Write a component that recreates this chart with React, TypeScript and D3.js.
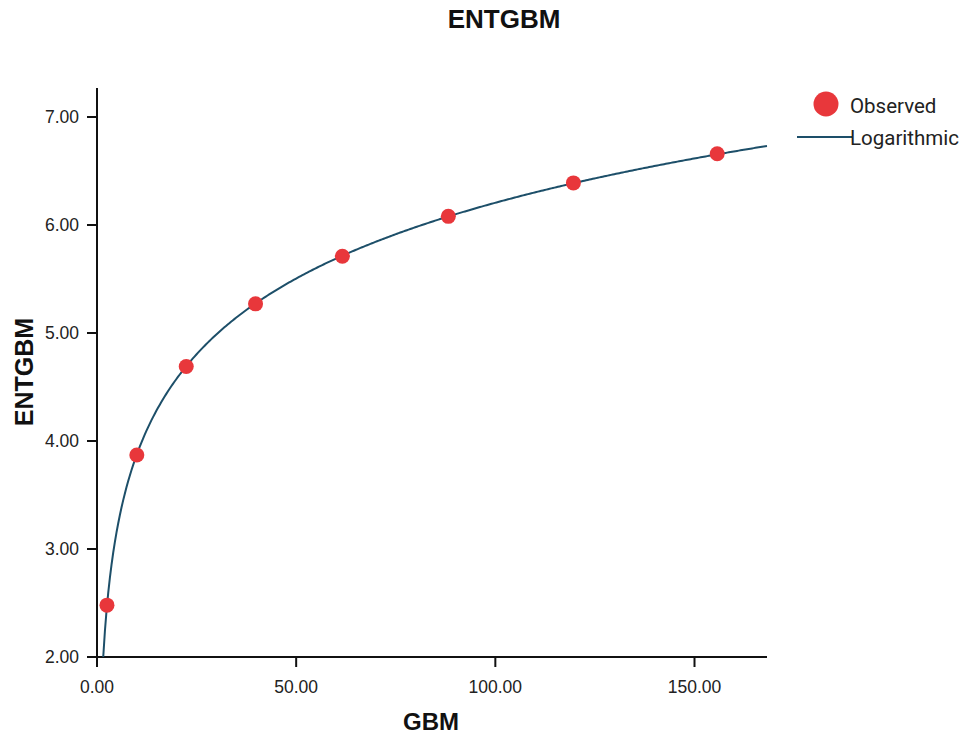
import React from "react";
import * as d3 from "d3";

const gbm = [2.5, 10.0, 22.4, 39.8, 61.6, 88.2, 119.6, 155.7];
const entgbm = [2.48, 3.87, 4.69, 5.27, 5.71, 6.08, 6.39, 6.66];
const xTicks = [0, 50, 100, 150];
const yTicks = [2, 3, 4, 5, 6, 7];
const legendLabels = ["Observed", "Logarithmic"];

const W = 979;
const H = 738;
const X0 = 97, X1 = 767;
const Y0 = 657, Y1 = 88;

export default function App() {
  const x = d3.scaleLinear().domain([0, 168.2]).range([X0, X1]);
  const y = d3.scaleLinear().domain([2, 7]).range([Y0, 117]);

  // least squares fit y = b0 + b1 ln(x)
  const lx = gbm.map(Math.log);
  const mx = d3.mean(lx)!;
  const my = d3.mean(entgbm)!;
  const b1 = d3.sum(lx.map((v, i) => (v - mx) * (entgbm[i] - my))) / d3.sum(lx.map((v) => (v - mx) ** 2));
  const b0 = my - b1 * mx;
  const xStart = Math.exp((2 - b0) / b1);
  const xs = d3.range(0, 401).map((i) => xStart + ((168.2 - xStart) * i) / 400);
  const line = d3
    .line<number>()
    .x((d) => x(d))
    .y((d) => y(b0 + b1 * Math.log(d)))
    .curve(d3.curveLinear);

  const font = "'Liberation Sans', Arial, sans-serif";
  const red = "#e8373b";
  const teal = "#1d4f69";

  return (
    <svg width={W} height={H} style={{ position: "absolute", left: 0, top: 0 }} fontFamily={font}>
      <rect width={W} height={H} fill="#fff" />
      <text x={504} y={28} textAnchor="middle" fontSize={26} fontWeight="bold" fill="#111">ENTGBM</text>
      {/* axes */}
      <line x1={X0} x2={X0} y1={Y1} y2={Y0 + 10} stroke="#111" strokeWidth={2} />
      <line x1={X0 - 10} x2={X1} y1={Y0} y2={Y0} stroke="#111" strokeWidth={2} />
      {yTicks.map((t) => (
        <g key={"y" + t}>
          <line x1={X0 - 10} x2={X0} y1={y(t)} y2={y(t)} stroke="#111" strokeWidth={2} />
          <text x={X0 - 18} y={y(t) + 6.3} textAnchor="end" fontSize={17.5} fill="#222">{t.toFixed(2)}</text>
        </g>
      ))}
      {xTicks.map((t) => (
        <g key={"x" + t}>
          <line x1={x(t)} x2={x(t)} y1={Y0} y2={Y0 + 10} stroke="#111" strokeWidth={2} />
          <text x={x(t)} y={Y0 + 36} textAnchor="middle" fontSize={17.5} fill="#222">{t.toFixed(2)}</text>
        </g>
      ))}
      <text x={431} y={730} textAnchor="middle" fontSize={24} fontWeight="bold" fill="#111">GBM</text>
      <text transform={`translate(33,372) rotate(-90)`} textAnchor="middle" fontSize={25} fontWeight="bold" fill="#111">ENTGBM</text>
      {/* fit */}
      <path d={line(xs) || ""} fill="none" stroke={teal} strokeWidth={2} />
      {gbm.map((g, i) => (
        <circle key={i} cx={x(g)} cy={y(entgbm[i])} r={7.5} fill={red} />
      ))}
      {/* legend */}
      <circle cx={826} cy={104} r={12.5} fill={red} />
      <text x={850} y={113} fontSize={20.5} fill="#222" fontFamily="Roboto, sans-serif">{legendLabels[0]}</text>
      <line x1={797} x2={852} y1={137} y2={137} stroke={teal} strokeWidth={2} />
      <text x={850} y={145} fontSize={20.5} fill="#222" fontFamily="Roboto, sans-serif">{legendLabels[1]}</text>
    </svg>
  );
}
